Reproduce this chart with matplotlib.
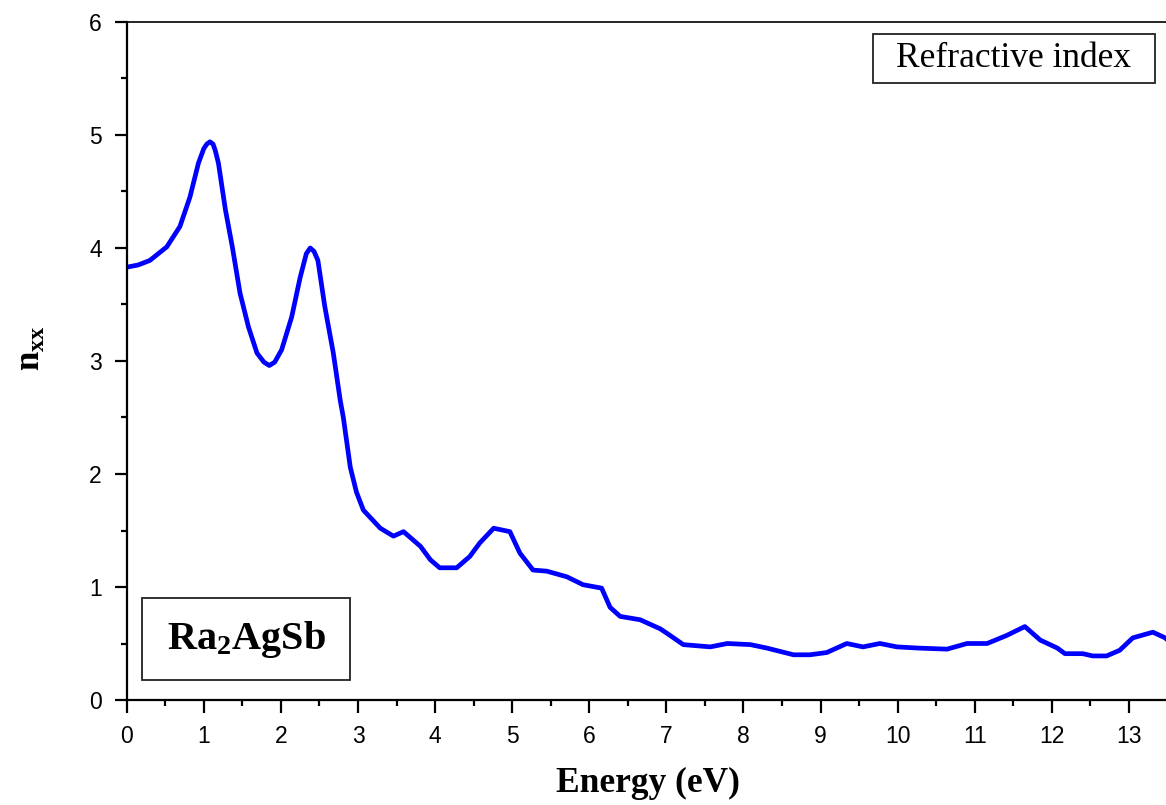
import matplotlib
matplotlib.use("Agg")
import matplotlib.pyplot as plt
from matplotlib.patches import Rectangle
from matplotlib.ticker import MultipleLocator

# Refractive index n_xx of Ra2AgSb versus photon energy
energy = [0.00, 0.15, 0.30, 0.52, 0.69, 0.82, 0.93, 1.00, 1.04, 1.08,
          1.12, 1.15, 1.19, 1.28, 1.37, 1.47, 1.58, 1.69, 1.78, 1.85,
          1.92, 2.01, 2.14, 2.25, 2.33, 2.38, 2.43, 2.48, 2.57, 2.68,
          2.77, 2.81, 2.90, 2.98, 3.07, 3.29, 3.46, 3.59, 3.81, 3.94,
          4.06, 4.28, 4.45, 4.58, 4.76, 4.97, 5.10, 5.27, 5.45, 5.71,
          5.92, 6.16, 6.27, 6.40, 6.66, 6.92, 7.04, 7.22, 7.57, 7.79,
          8.09, 8.30, 8.65, 8.86, 9.08, 9.34, 9.55, 9.77, 9.99, 10.25,
          10.64, 10.90, 11.16, 11.41, 11.65, 11.85, 12.07, 12.17, 12.40, 12.53,
          12.71, 12.88, 13.05, 13.31, 13.47, 13.55]
n_xx = [3.83, 3.85, 3.89, 4.01, 4.19, 4.45, 4.75, 4.88, 4.92, 4.94,
        4.92, 4.86, 4.75, 4.34, 4.01, 3.60, 3.30, 3.07, 2.99, 2.96,
        2.99, 3.10, 3.39, 3.74, 3.95, 4.00, 3.97, 3.89, 3.48, 3.07,
        2.65, 2.50, 2.06, 1.84, 1.68, 1.52, 1.45, 1.49, 1.36, 1.24,
        1.17, 1.17, 1.27, 1.39, 1.52, 1.49, 1.30, 1.15, 1.14, 1.09,
        1.02, 0.99, 0.82, 0.74, 0.71, 0.63, 0.575, 0.49, 0.47, 0.50,
        0.49, 0.46, 0.40, 0.40, 0.42, 0.50, 0.47, 0.50, 0.47, 0.46,
        0.45, 0.50, 0.50, 0.57, 0.65, 0.53, 0.46, 0.41, 0.41, 0.39,
        0.39, 0.44, 0.55, 0.60, 0.55, 0.50]

x_ticks = list(range(0, 14))
y_ticks = list(range(0, 7))

plt.rcParams["mathtext.fontset"] = "custom"
plt.rcParams["mathtext.rm"] = "Liberation Serif"
plt.rcParams["mathtext.bf"] = "Liberation Serif:bold"

W, H = 1166, 805
fig = plt.figure(figsize=(W / 100, H / 100), dpi=100)
left, right, top, bottom = 126.7, 1167.5, 22, 700
ax = fig.add_axes([left / W, 1 - bottom / H, (right - left) / W, (bottom - top) / H])

ax.plot(energy, n_xx, color="#0000ff", lw=3.4, solid_joinstyle="round")

ax.set_xlim(0, 13.5)
ax.set_ylim(0, 6)
ax.set_xticks(x_ticks)
ax.set_yticks(y_ticks)
ax.xaxis.set_minor_locator(MultipleLocator(0.5))
ax.yaxis.set_minor_locator(MultipleLocator(0.5))
ax.tick_params(which="major", direction="out", length=9, width=1.6,
               labelsize=16.5, pad=9)
ax.tick_params(which="minor", direction="out", length=4.5, width=1.6)
for lab in ax.get_xticklabels() + ax.get_yticklabels():
    lab.set_fontfamily("Liberation Sans")

ax.spines["right"].set_visible(False)
ax.spines["left"].set_linewidth(1.6)
ax.spines["bottom"].set_linewidth(1.6)
ax.spines["top"].set_linewidth(1.2)

fig.text(648 / W, 1 - 783 / H, "Energy (eV)", ha="center", va="center",
         fontsize=25.5, fontweight="bold", family="Liberation Serif")
fig.text(30 / W, 1 - 348 / H, r"$\mathbf{n_{xx}}$", ha="center", va="center",
         rotation=90, fontsize=25)

# Labelled boxes
def boxed(x0, y0, x1, y1, txt, **kw):
    fig.patches.append(Rectangle((x0 / W, 1 - y1 / H), (x1 - x0) / W, (y1 - y0) / H,
                                 transform=fig.transFigure, fill=False,
                                 edgecolor="#222222", lw=1.3))
    fig.text((x0 + x1) / 2 / W, 1 - (y0 + y1) / 2 / H, txt,
             ha="center", va="center", **kw)

boxed(873, 34, 1155, 83, "Refractive index", fontsize=25.5,
      family="Liberation Serif")
boxed(142, 598, 350, 680, r"$\mathbf{Ra_2AgSb}$", fontsize=29)

fig.savefig("out.png", dpi=100)
